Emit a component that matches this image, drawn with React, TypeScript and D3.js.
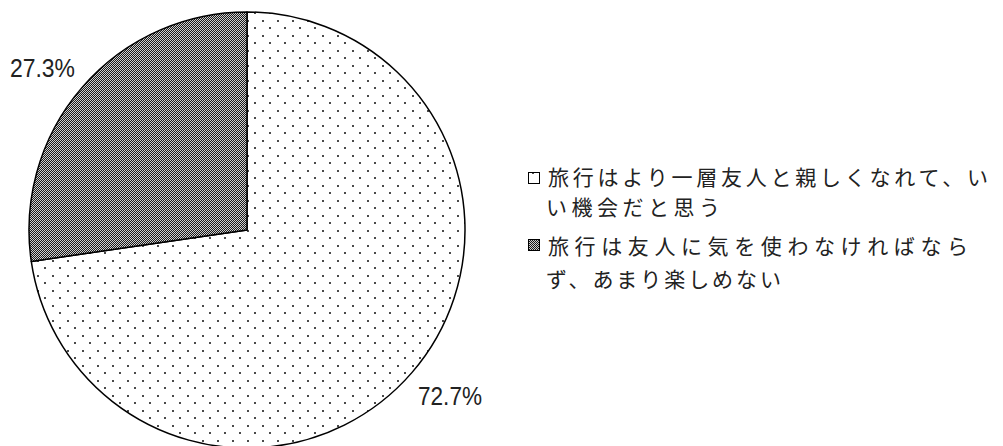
import React from "react";
import * as d3 from "d3";

const categories = [
  "旅行はより一層友人と親しくなれて、いい機会だと思う",
  "旅行は友人に気を使わなければならず、あまり楽しめない",
];
const values = [72.7, 27.3];
const valueLabels = ["72.7%", "27.3%"];
const legendLines = [
  ["旅行はより一層友人と親しくなれて、い", "い機会だと思う"],
  ["旅行は友人に気を使わなければなら", "ず、あまり楽しめない"],
];

const W = 1003;
const H = 446;
const cx = 247;
const cy = 230;
const R = 218;

export default function App() {
  const pie = d3.pie<number>().sort(null).startAngle(0).endAngle(2 * Math.PI);
  const arcs = pie(values);
  const arc = d3.arc<d3.PieArcDatum<number>>().innerRadius(0).outerRadius(R);
  const fills = ["url(#dots)", "url(#checker)"];
  const labelPos = [
    { x: 418, y: 405, len: 64 },
    { x: 10, y: 77, len: 65 },
  ];
  const legendY = [
    [176, 206],
    [245, 278],
  ];
  const lineLens = [
    [440, 174],
    [420, 235],
  ];
  const markerY = [172, 239];
  return (
    <svg
      width={W}
      height={H}
      style={{ position: "absolute", left: 0, top: 0, background: "#fff" }}
    >
      <defs>
        <pattern id="dots" width={15} height={15} patternUnits="userSpaceOnUse">
          <rect width={15} height={15} fill="#fff" />
          <rect x={0} y={0} width={2} height={2} fill="#4a4a4a" />
          <rect x={7} y={7} width={2} height={2} fill="#4a4a4a" />
        </pattern>
        <pattern id="checker" width={2} height={2} patternUnits="userSpaceOnUse">
          <rect width={2} height={2} fill="#cfcfcf" />
          <rect x={0} y={0} width={1} height={1} fill="#1a1a1a" />
          <rect x={1} y={1} width={1} height={1} fill="#1a1a1a" />
        </pattern>
      </defs>
      <g transform={`translate(${cx},${cy})`}>
        {arcs.map((a, i) => (
          <path
            key={i}
            d={arc(a) || ""}
            fill={fills[i]}
            stroke="#000"
            strokeWidth={1.5}
            strokeLinejoin="round"
          />
        ))}
      </g>
      {valueLabels.map((t, i) => (
        <text
          key={i}
          x={labelPos[i].x}
          y={labelPos[i].y}
          fontFamily="Liberation Sans, Arial, sans-serif"
          fontSize={25}
          fill="#222"
          textLength={labelPos[i].len}
          lengthAdjust="spacingAndGlyphs"
        >
          {t}
        </text>
      ))}
      {categories.map((c, i) => (
        <g key={i}>
          <rect
            x={528.5}
            y={markerY[i] + 0.5}
            width={11}
            height={11}
            fill={fills[i]}
            stroke="#000"
            strokeWidth={1}
          />
          {legendLines[i].map((ln, j) => (
            <text
              key={j}
              x={j === 0 ? 548 : 546}
              y={legendY[i][j]}
              dominantBaseline="central"
              fontFamily="Noto Sans CJK JP, sans-serif"
              fontSize={21}
              fill="#222"
              textLength={lineLens[i][j]}
              lengthAdjust="spacing"
            >
              {ln}
            </text>
          ))}
        </g>
      ))}
    </svg>
  );
}
